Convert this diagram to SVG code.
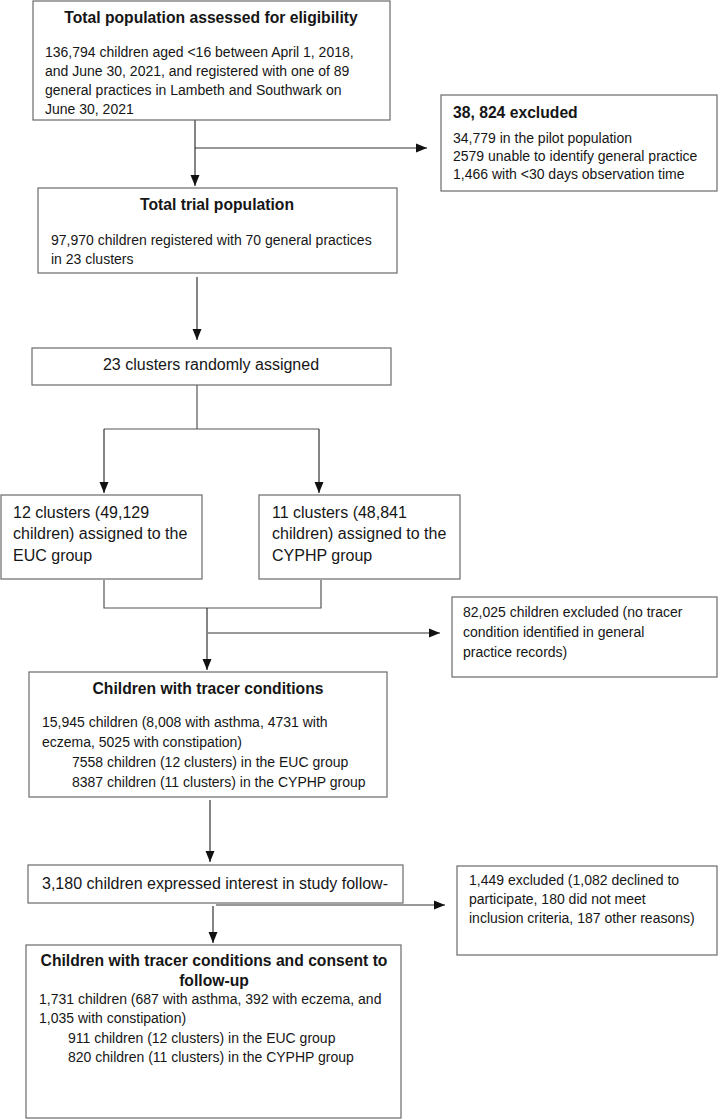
<svg xmlns="http://www.w3.org/2000/svg" width="723" height="1120" viewBox="0 0 723 1120">
<style>
.box{fill:#fff;stroke:#6a6a6a;stroke-width:1.2}
.t{font-family:"Liberation Sans",Arial,sans-serif;font-size:14px;fill:#161616}
.b{font-weight:bold;font-size:15.7px}
.l{font-size:16px}
.c{text-anchor:middle}
.ln{fill:none;stroke:#555;stroke-width:1.2}
.ar{fill:none;stroke:#333;stroke-width:1.2;marker-end:url(#ah)}
</style>
<defs>
<marker id="ah" markerUnits="userSpaceOnUse" markerWidth="12" markerHeight="10" refX="11" refY="5" orient="auto">
<path d="M0,0.5 L11,5 L0,9.5 Z" fill="#111"/>
</marker>
</defs>
<rect width="723" height="1120" fill="#fff"/>
<g id="connectors">
<path class="ar" d="M195,120 V186"/>
<path class="ar" d="M195,148 H427"/>
<path class="ar" d="M197,277 V340"/>
<path class="ln" d="M197,385 V429 M104,429 H319"/>
<path class="ar" d="M104,429 V493"/>
<path class="ar" d="M319,429 V493"/>
<path class="ln" d="M104,580 V608 H321 V580"/>
<path class="ar" d="M207,608 V670"/>
<path class="ar" d="M208,633 H440"/>
<path class="ar" d="M210,800 V862"/>
<path class="ar" d="M213,906 V943"/>
<path class="ar" d="M216,905 H445"/>
</g>
<g id="n1">
<rect class="box" x="33" y="1" width="357" height="119"/>
<text class="t b c" x="211" y="23">Total population assessed for eligibility</text>
<text class="t" x="45" y="57">136,794 children aged &lt;16 between April 1, 2018,</text>
<text class="t" x="45" y="76">and June 30, 2021, and registered with one of 89</text>
<text class="t" x="45" y="95">general practices in Lambeth and Southwark on</text>
<text class="t" x="45" y="114">June 30, 2021</text>
</g>
<g id="n2">
<rect class="box" x="441" y="95" width="276" height="96"/>
<text class="t b" x="453" y="118">38, 824 excluded</text>
<text class="t" x="453" y="143">34,779 in the pilot population</text>
<text class="t" x="453" y="161">2579 unable to identify general practice</text>
<text class="t" x="453" y="179">1,466 with &lt;30 days observation time</text>
</g>
<g id="n3">
<rect class="box" x="38" y="188" width="359" height="85"/>
<text class="t b c" x="217" y="210">Total trial population</text>
<text class="t" x="51" y="245">97,970 children registered with 70 general practices</text>
<text class="t" x="51" y="264">in 23 clusters</text>
</g>
<g id="n4">
<rect class="box" x="32" y="348" width="359" height="37"/>
<text class="t l c" x="211" y="370">23 clusters randomly assigned</text>
</g>
<g id="n5">
<rect class="box" x="1" y="495" width="201" height="84"/>
<text class="t l" x="13" y="518">12 clusters (49,129</text>
<text class="t l" x="13" y="539">children) assigned to the</text>
<text class="t l" x="13" y="561">EUC group</text>
</g>
<g id="n6">
<rect class="box" x="259" y="495" width="201" height="84"/>
<text class="t l" x="272" y="518">11 clusters (48,841</text>
<text class="t l" x="272" y="539">children) assigned to the</text>
<text class="t l" x="272" y="561">CYPHP group</text>
</g>
<g id="n7">
<rect class="box" x="452" y="597" width="265" height="80"/>
<text class="t" x="463" y="617">82,025 children excluded (no tracer</text>
<text class="t" x="463" y="637">condition identified in general</text>
<text class="t" x="463" y="657">practice records)</text>
</g>
<g id="n8">
<rect class="box" x="29" y="672" width="358" height="125"/>
<text class="t b c" x="208" y="694">Children with tracer conditions</text>
<text class="t" x="42" y="727">15,945 children (8,008 with asthma, 4731 with</text>
<text class="t" x="42" y="747">eczema, 5025 with constipation)</text>
<text class="t" x="72" y="767">7558 children (12 clusters) in the EUC group</text>
<text class="t" x="72" y="787">8387 children (11 clusters) in the CYPHP group</text>
</g>
<g id="n9">
<rect class="box" x="28" y="865" width="375" height="38"/>
<text class="t l c" x="215" y="889">3,180 children expressed interest in study follow-</text>
</g>
<g id="n10">
<rect class="box" x="457" y="866" width="260" height="89"/>
<text class="t" x="469" y="885">1,449 excluded (1,082 declined to</text>
<text class="t" x="469" y="904">participate, 180 did not meet</text>
<text class="t" x="469" y="923">inclusion criteria, 187 other reasons)</text>
</g>
<g id="n11">
<rect class="box" x="26" y="945" width="375" height="173"/>
<text class="t b c" x="214" y="966">Children with tracer conditions and consent to</text>
<text class="t b c" x="214" y="986">follow-up</text>
<text class="t" x="39" y="1004">1,731 children (687 with asthma, 392 with eczema, and</text>
<text class="t" x="39" y="1023">1,035 with constipation)</text>
<text class="t" x="68" y="1043">911 children (12 clusters) in the EUC group</text>
<text class="t" x="68" y="1062">820 children (11 clusters) in the CYPHP group</text>
</g>
</svg>
